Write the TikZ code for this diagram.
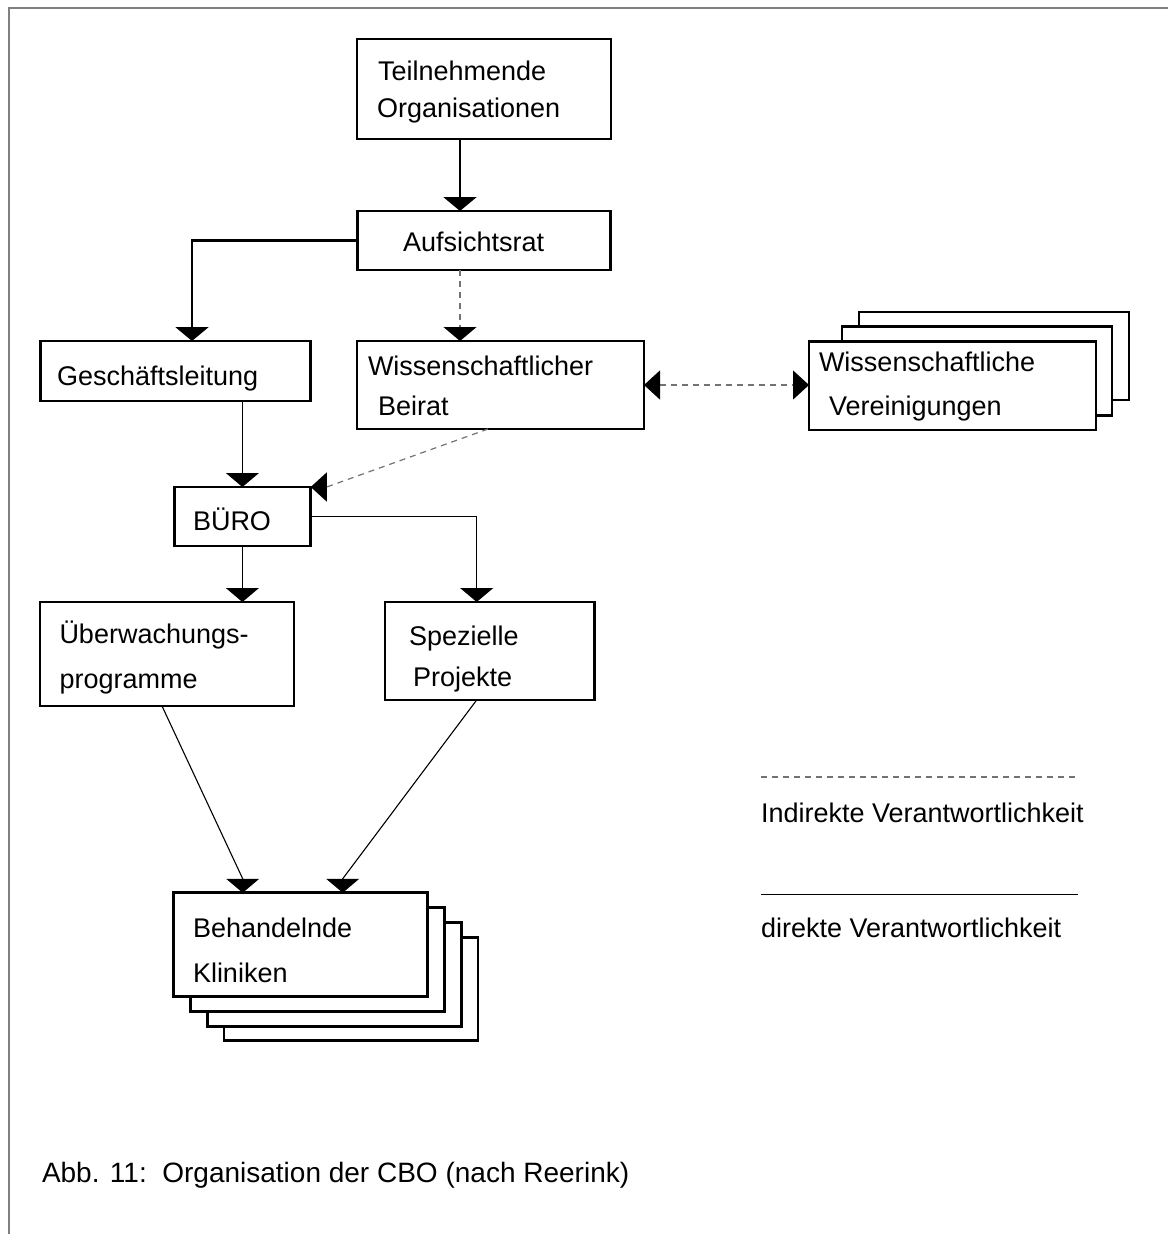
\documentclass[tikz,border=0pt]{standalone}
\usepackage{fontspec}
\setmainfont{Liberation Sans}
\usetikzlibrary{arrows.meta,calc}

\tikzset{
  sidehead/.tip={Triangle[length=16pt,width=29pt,color=black]},
  downhead/.tip={Triangle[length=14pt,width=33pt,color=black]},
}

\begin{document}
\begin{tikzpicture}[x=1pt,y=-1pt,
  box/.style={draw, line width=2.9pt, fill=white, inner sep=0pt, outer sep=0pt},
  lbl/.style={anchor=base west, inner sep=0pt, outer sep=0pt, font=\fontsize{27}{32}\selectfont},
  thickcon/.style={line width=2.5pt, -downhead},
  thincon/.style={line width=1.1pt, -downhead},
  dashcon/.style={line width=1.2pt, black!55, dash pattern=on 6pt off 5pt},
]
\useasboundingbox (0,0) rectangle (1168,1234);

% page frame
\draw[line width=2pt, black!50] (8.5,1234) -- (8.5,7.5) -- (1168,7.5);

% boxes
\node[box, minimum width=254pt, minimum height=100pt] (teil) at (484,89) {};
\node[box, minimum width=253pt, minimum height=59pt] (auf) at (484,240.5) {};
\node[box, minimum width=270.7pt, minimum height=60pt] (gesch) at (175.4,371) {};
\node[box, minimum width=287pt, minimum height=88pt] (beirat) at (500.5,385) {};
\node[box, minimum width=270pt, minimum height=88pt] (ver3) at (994,356) {};
\node[box, minimum width=270pt, minimum height=88.6pt] (ver2) at (977,371) {};
\node[box, minimum width=287pt, minimum height=88.3pt] (ver) at (952.5,385.8) {};
\node[box, minimum width=136.7pt, minimum height=59pt] (buero) at (242.4,516.5) {};
\node[box, minimum width=254pt, minimum height=104pt] (ueber) at (167,654) {};
\node[box, minimum width=209.5pt, minimum height=98pt] (spez) at (489.7,651) {};
\node[box, minimum width=254pt, minimum height=103.5pt] (klin4) at (351,989) {};
\node[box, minimum width=254pt, minimum height=103.5pt] (klin3) at (334.3,974.3) {};
\node[box, minimum width=254pt, minimum height=103.5pt] (klin2) at (317.6,959.5) {};
\node[box, minimum width=254pt, minimum height=103.5pt] (klin) at (300.85,944.5) {};

% box texts
\node[lbl] (tteil1) at (378,80.5) {Teilnehmende};
\node[lbl] (tteil2) at (377,117) {Organisationen};
\node[lbl] (tauf) at (403,251) {Aufsichtsrat};
\node[lbl] (tgesch) at (57,385.5) {Geschäftsleitung};
\node[lbl] (tbei1) at (368,375) {Wissenschaftlicher};
\node[lbl] (tbei2) at (378,415) {Beirat};
\node[lbl] (tver1) at (819,371) {Wissenschaftliche};
\node[lbl] (tver2) at (829,415) {Vereinigungen};
\node[lbl] (tbuero) at (193,530) {BÜRO};
\node[lbl] (tueb1) at (59.5,643) {Überwachungs-};
\node[lbl] (tueb2) at (59.5,688) {programme};
\node[lbl] (tspez1) at (409,645) {Spezielle};
\node[lbl] (tspez2) at (413,686) {Projekte};
\node[lbl] (tklin1) at (193,937) {Behandelnde};
\node[lbl] (tklin2) at (193,982) {Kliniken};

% connector columns
\coordinate (xa) at (460,0);
\coordinate (gx) at (192,0);
\coordinate (sx) at (476.7,0);
\coordinate (u1) at (162,0);
\coordinate (k1) at (242.7,0);
\coordinate (k2) at (342.7,0);
\coordinate (bx) at (488,0);

% connectors
\draw[thickcon] (teil.south -| xa) -- (auf.north -| xa);
\draw[thickcon] (auf.west) -| (gesch.north -| gx);
\draw[dashcon, -downhead] (auf.south -| xa) -- (beirat.north -| xa);
\draw[dashcon, sidehead-sidehead] (beirat.east) -- (beirat.east -| ver.west);
\draw[thincon] (buero.north |- gesch.south) -- (buero.north);
\draw[dashcon, -sidehead] (beirat.south -| bx) -- ($(buero.north east)+(16,0)$) -- (buero.north east);
\draw[thincon] (buero.south) -- (buero.south |- ueber.north);
\draw[thincon] (buero.east) -| (spez.north -| sx);
\draw[thincon] (ueber.south -| u1) -- ($(klin.north -| k1)+(0,-14)$) -- (klin.north -| k1);
\draw[thincon] (spez.south -| sx) -- ($(klin.north -| k2)+(0,-14)$) -- (klin.north -| k2);

% legend
\coordinate (la) at (761,777);
\coordinate (lb) at (1078,777);
\coordinate (lc) at (761,894.3);
\coordinate (ld) at (1078,894.3);
\draw[dashcon] (la) -- (lb);
\draw[line width=1pt] (lc) -- (ld);
\node[lbl] (tind) at (761,822) {Indirekte Verantwortlichkeit};
\node[lbl] (tdir) at (761,937) {direkte Verantwortlichkeit};

% caption
\node[lbl, font=\fontsize{28}{32}\selectfont] (cap) at (42,1182) {Abb. 11:\ \ Organisation der CBO (nach Reerink)};
\end{tikzpicture}
\end{document}
